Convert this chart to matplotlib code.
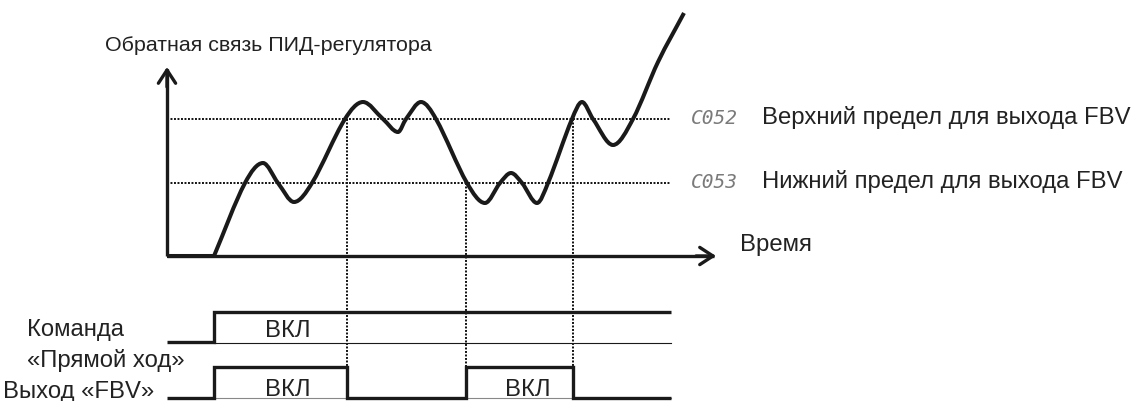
import numpy as np
import matplotlib
matplotlib.use("Agg")
import matplotlib.pyplot as plt
from matplotlib.path import Path
from matplotlib.patches import PathPatch

plt.rcParams['font.family'] = ['Liberation Sans', 'DejaVu Sans']

# ---- diagram data (diagram units = reference pixels, y grows downward) ----
axis_origin_x = 167
axis_origin_y = 256
y_axis_top = 67
x_axis_end = 716
upper_limit = 119     # C052
lower_limit = 183     # C053
limit_line_end = 670

# PID feedback curve
curve_x = [214, 245, 263, 278, 294, 312, 345, 363, 383, 398, 406, 421, 436,
           467, 485, 500, 511, 522, 537, 548, 572, 582, 593, 613, 633, 658, 684]
curve_y = [256, 183, 163, 183, 202, 183, 119, 102, 119, 132, 119, 102, 119,
           183, 203, 183, 173, 183, 203, 183, 119, 102, 119, 145, 119, 62, 13]

# threshold crossings that switch the FBV output
switch_x = [347, 466, 573]
switch_from_y = [119, 183, 119]

# timing signals
signal_start = 167
signal_end = 671
cmd_on = 214
cmd_low, cmd_high = 342, 312
fbv_low, fbv_high = 398, 367
fbv_on_intervals = [(214, 347), (466, 573)]

title_text = "Обратная связь ПИД-регулятора"
time_text = "Время"
code_labels = ["C052", "C053"]
limit_labels = ["Верхний предел для выхода FBV", "Нижний предел для выхода FBV"]
cmd_label = ["Команда", "«Прямой ход»"]
fbv_label = "Выход «FBV»"
on_text = "ВКЛ"
on_label_x = [288, 288, 528]

W, H = 1134, 401
fig = plt.figure(figsize=(W / 100, H / 100), dpi=100)
ax = fig.add_axes([0, 0, 1, 1])
ax.set_xlim(0, W)
ax.set_ylim(H, 0)
ax.axis('off')

dot = (0, (1, 0.8))
dot_color = '#111111'
ink = '#1a1a1a'

# limit lines
for lvl in (upper_limit, lower_limit):
    ax.plot([axis_origin_x, limit_line_end], [lvl, lvl], color=dot_color,
            lw=1.4, ls=dot, zorder=1)

# vertical switching lines
for sx, sy in zip(switch_x, switch_from_y):
    ax.plot([sx, sx], [sy, fbv_high], color=dot_color, lw=1.4, ls=dot, zorder=1)

# axes with arrows
ax_lw = 2.4
ax.plot([axis_origin_x, axis_origin_x], [axis_origin_y, y_axis_top + 2],
        color=ink, lw=ax_lw, solid_capstyle='butt', zorder=3)
ax.plot([axis_origin_x, x_axis_end - 2], [axis_origin_y, axis_origin_y],
        color=ink, lw=ax_lw, solid_capstyle='butt', zorder=3)
arrow_style = dict(arrowstyle='->,head_length=0.95,head_width=0.62',
                   lw=ax_lw, color=ink, mutation_scale=10,
                   shrinkA=0, shrinkB=0)
ax.annotate('', xy=(axis_origin_x, y_axis_top),
            xytext=(axis_origin_x, y_axis_top + 20), arrowprops=arrow_style)
ax.annotate('', xy=(x_axis_end, axis_origin_y),
            xytext=(x_axis_end - 20, axis_origin_y), arrowprops=arrow_style)

# smooth curve: cubic Hermite in x with finite-difference slopes
xs = np.asarray(curve_x, float)
ys = np.asarray(curve_y, float)
n = len(xs)
m = np.zeros(n)
m[0] = (ys[1] - ys[0]) / (xs[1] - xs[0])
m[-1] = (ys[-1] - ys[-2]) / (xs[-1] - xs[-2])
for i in range(1, n - 1):
    m[i] = (ys[i + 1] - ys[i - 1]) / (xs[i + 1] - xs[i - 1])
verts = [(axis_origin_x, axis_origin_y), (xs[0], ys[0])]
codes = [Path.MOVETO, Path.LINETO]
for i in range(n - 1):
    h = xs[i + 1] - xs[i]
    verts += [(xs[i] + h / 3, ys[i] + m[i] * h / 3),
              (xs[i + 1] - h / 3, ys[i + 1] - m[i + 1] * h / 3),
              (xs[i + 1], ys[i + 1])]
    codes += [Path.CURVE4] * 3
ax.add_patch(PathPatch(Path(verts, codes), fill=False, lw=2.9,
                       edgecolor=ink, capstyle='butt', joinstyle='round',
                       zorder=4))

# command signal
sig_lw = 2.4
ax.plot([signal_start, cmd_on, cmd_on, signal_end],
        [cmd_low, cmd_low, cmd_high, cmd_high], color=ink, lw=sig_lw,
        solid_joinstyle='miter', solid_capstyle='butt', zorder=3)
ax.plot([cmd_on, signal_end], [cmd_low + 1, cmd_low + 1], color=ink,
        lw=0.8, zorder=2)

# FBV output signal
fx, fy = [signal_start], [fbv_low]
for a, b in fbv_on_intervals:
    fx += [a, a, b, b]
    fy += [fbv_low, fbv_high, fbv_high, fbv_low]
fx.append(signal_end)
fy.append(fbv_low)
ax.plot([cmd_on, signal_end], [fbv_low, fbv_low], color='#888888', lw=0.8, zorder=2)
ax.plot(fx, fy, color=ink, lw=sig_lw, solid_joinstyle='miter',
        solid_capstyle='butt', zorder=3)

# texts
fs = 17.2
tc = '#222222'
ax.text(105, 51, title_text, fontsize=15.4, color=tc, ha='left', va='baseline')
ax.text(740, 251, time_text, fontsize=fs, color=tc, ha='left', va='baseline')
for lvl, code, lab in zip((upper_limit, lower_limit), code_labels, limit_labels):
    ax.text(691, lvl + 5, code, fontsize=14, color='#7a7a7a', ha='left',
            va='baseline', family='DejaVu Sans Mono', style='oblique')
    ax.text(762, lvl + 5, lab, fontsize=fs, color=tc, ha='left', va='baseline')
ax.text(27, 336, cmd_label[0], fontsize=fs, color=tc, ha='left', va='baseline')
ax.text(27, 367, cmd_label[1], fontsize=fs, color=tc, ha='left', va='baseline')
ax.text(3, 398, fbv_label, fontsize=fs, color=tc, ha='left', va='baseline')
ax.text(on_label_x[0], 337, on_text, fontsize=fs, color=tc, ha='center', va='baseline')
ax.text(on_label_x[1], 396, on_text, fontsize=fs, color=tc, ha='center', va='baseline')
ax.text(on_label_x[2], 396, on_text, fontsize=fs, color=tc, ha='center', va='baseline')

fig.savefig('out.png', dpi=100)
